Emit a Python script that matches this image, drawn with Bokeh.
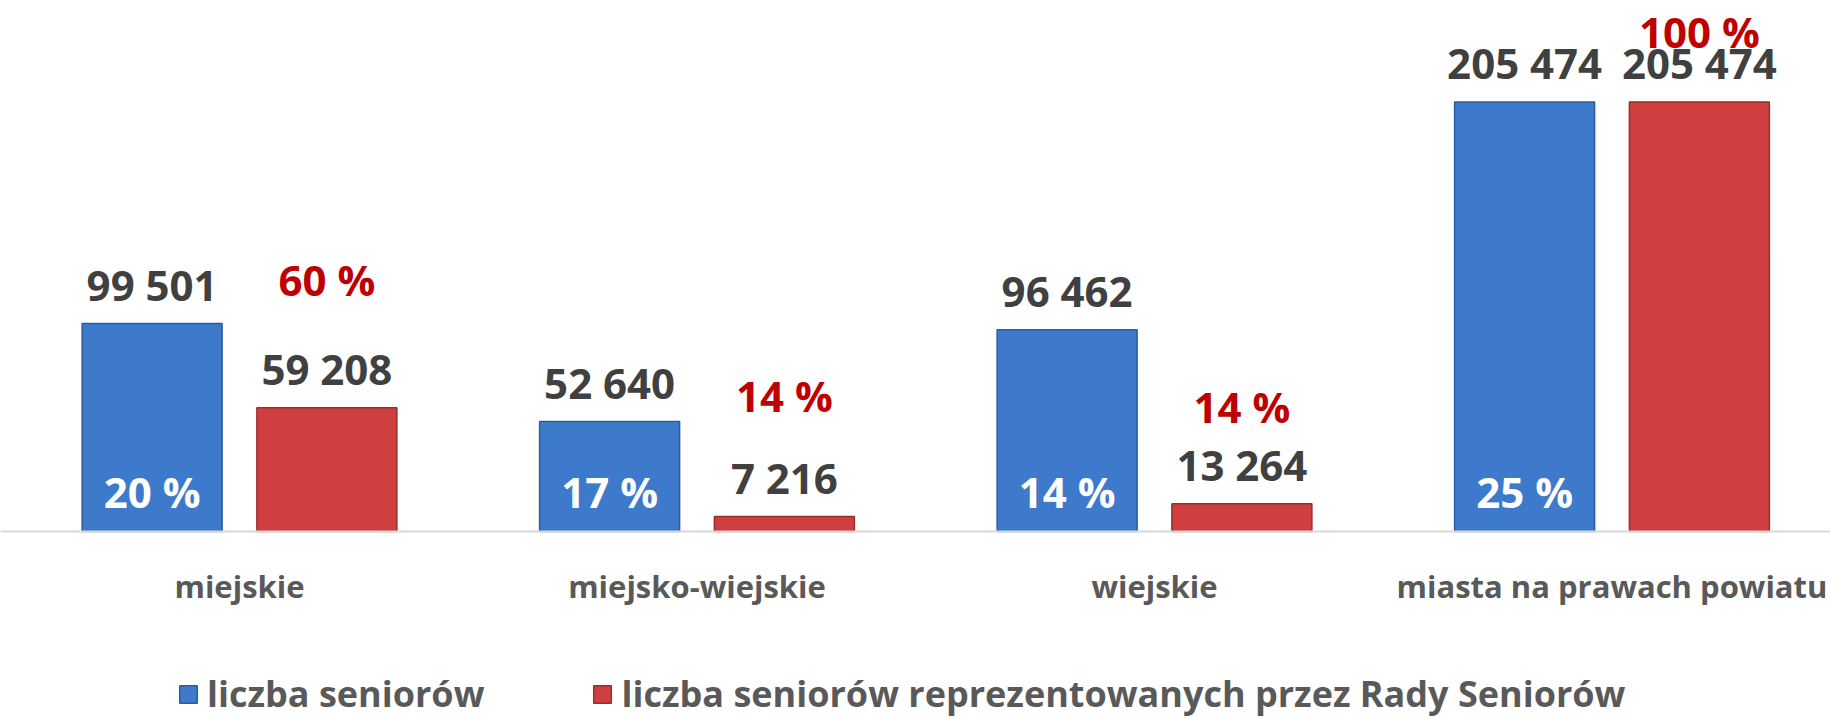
from bokeh.plotting import figure
from bokeh.models import ColumnDataSource, Range1d, Legend, LegendItem, Span
from bokeh.core.properties import value
from bokeh.transform import dodge
from bokeh.embed import file_html
from bokeh.resources import INLINE

# ---- data ----
categories = ["miejskie", "miejsko-wiejskie", "wiejskie", "miasta na prawach powiatu"]
seniors = [99501, 52640, 96462, 205474]
represented = [59208, 7216, 13264, 205474]
seniors_pct = [20, 17, 14, 25]
represented_pct = [60, 14, 14, 100]
series_names = ["liczba seniorów", "liczba seniorów reprezentowanych przez Rady Seniorów"]

# ---- style ----
FONT = value("Open Sans")
BLUE = "#3d7acb"
BLUE_EDGE = "#2d5c9b"
RED = "#cf3f3f"
RED_EDGE = "#9b2d2d"
VALUE_COLOR = "#404040"
PCT_RED = "#c00000"
GREY_TEXT = "#595959"
red_pct_offsets = [-128, -121, -97, -70]  # screen px above bar top (manual label placement)

W, H = 1830, 718
BASE_PX_FROM_BOTTOM = 187
UNITS_PER_PX = 478.4


def fmt(v):
    return f"{v:,}".replace(",", " ")


xs = list(range(len(categories)))
src = ColumnDataSource(dict(
    x=xs,
    cat=categories,
    seniors=seniors,
    represented=represented,
    zero=[0] * len(xs),
    seniors_lbl=[fmt(v) for v in seniors],
    represented_lbl=[fmt(v) for v in represented],
    seniors_pct_lbl=[f"{v} %" for v in seniors_pct],
    represented_pct_lbl=[f"{v} %" for v in represented_pct],
    pct_dy=red_pct_offsets,
))

y0 = -BASE_PX_FROM_BOTTOM * UNITS_PER_PX
y1 = (H - BASE_PX_FROM_BOTTOM) * UNITS_PER_PX
p = figure(width=W, height=H,
           x_range=Range1d(-0.5224, 3.4776), y_range=Range1d(y0, y1),
           output_backend="svg", toolbar_location=None,
           x_axis_location=None, y_axis_location=None,
           min_border=0)
p.outline_line_color = None
p.xgrid.visible = False
p.ygrid.visible = False
p.background_fill_color = "white"
p.border_fill_color = "white"

# baseline (category axis line)
p.add_layout(Span(location=0, dimension="width", line_color="#d9d9d9", line_width=2))

off = 0.191
bw = 0.306
blue = p.vbar(x=dodge("x", -off), top="seniors", width=bw, source=src,
              fill_color=BLUE, line_color=BLUE_EDGE, line_width=1.5)
red = p.vbar(x=dodge("x", off), top="represented", width=bw, source=src,
             fill_color=RED, line_color=RED_EDGE, line_width=1.5)

# value labels above bars
p.text(x=dodge("x", -off), y="seniors", text="seniors_lbl", source=src,
       text_font=FONT, text_font_style="bold", text_font_size="42px",
       text_color=VALUE_COLOR, text_align="center", text_baseline="middle", y_offset=-39)
p.text(x=dodge("x", off), y="represented", text="represented_lbl", source=src,
       text_font=FONT, text_font_style="bold", text_font_size="42px",
       text_color=VALUE_COLOR, text_align="center", text_baseline="middle", y_offset=-39)

# percentage labels
p.text(x=dodge("x", -off), y="zero", text="seniors_pct_lbl", source=src,
       text_font=FONT, text_font_style="bold", text_font_size="42px",
       text_color="white", text_align="center", text_baseline="middle", y_offset=-40)
p.text(x=dodge("x", off), y="represented", text="represented_pct_lbl", source=src,
       text_font=FONT, text_font_style="bold", text_font_size="42px",
       text_color=PCT_RED, text_align="center", text_baseline="middle", y_offset="pct_dy")

# category labels
p.text(x="x", y="zero", text="cat", source=src,
       text_font=FONT, text_font_style="bold", text_font_size="31px",
       text_color=GREY_TEXT, text_align="center", text_baseline="middle", y_offset=54)

legend = Legend(items=[LegendItem(label=series_names[0], renderers=[blue]),
                       LegendItem(label=series_names[1], renderers=[red])],
                orientation="horizontal", location=(177, 0))
legend.label_text_font = "Open Sans"
legend.label_text_font_style = "bold"
legend.label_text_font_size = "36px"
legend.label_text_color = GREY_TEXT
legend.glyph_width = 22
legend.glyph_height = 22
legend.label_standoff = 8
legend.spacing = 107
legend.padding = 0
legend.margin = 0
legend.border_line_color = None
legend.background_fill_alpha = 0
p.add_layout(legend)

open("out.html", "w").write(file_html(p, INLINE))
